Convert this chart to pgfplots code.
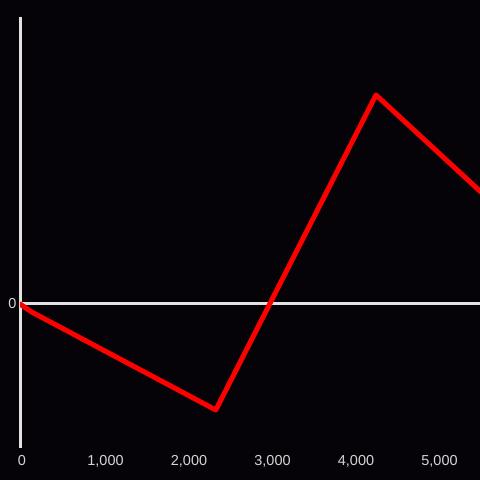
\documentclass[border=0pt]{standalone}
\usepackage{fontspec}
\setmainfont{Liberation Sans}
\usepackage{pgfplots}
\pgfplotsset{compat=1.18}
\definecolor{bg}{HTML}{050308}
\definecolor{ax}{HTML}{E2E2E2}
\definecolor{lbl}{HTML}{D4D4D4}
\definecolor{ln}{HTML}{FF0000}
\begin{document}
\begin{tikzpicture}[x=1bp,y=1bp]
\fill[bg] (0,0) rectangle (480,480);
\useasboundingbox (0,0) rectangle (480,480);
\begin{axis}[
  at={(20bp,32bp)}, anchor=south west,
  scale only axis, width=460bp, height=431bp,
  xmin=0, xmax=5509, ymin=-144, ymax=287,
  axis x line*=bottom, x axis line style={draw=none},
  axis y line*=left, y axis line style={ax, line width=3bp, -},
  xtick={0,1000,2000,3000,4000,5000},
  ytick={0},
  ymajorgrids, grid style={ax, line width=3bp},
  major tick length=0pt,
  /pgf/number format/assume math mode=true,
  /pgf/number format/1000 sep={,},
  tick label style={lbl, font=\fontsize{14.5}{16}\selectfont},
  xticklabel style={yshift=-4bp, xshift=2bp},
  yticklabel style={xshift=0bp},
]
\addplot[ln, line width=5bp, line join=round, line cap=round] coordinates {
 (0,0) (140,-8) (2345,-106) (4263,209) (5520,112)
};
\end{axis}
\end{tikzpicture}
\end{document}
